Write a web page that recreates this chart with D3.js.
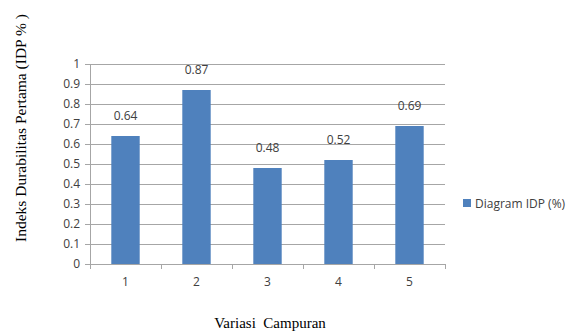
<!DOCTYPE html>
<html>
<head>
<meta charset="utf-8">
<script src="https://cdn.jsdelivr.net/npm/d3@7"></script>
<style>
  body { margin: 0; background: #fff; }
  svg { display: block; }
</style>
</head>
<body>
<svg id="chart" width="568" height="333"></svg>
<script>
// Durability index per mixture variation
const categories = ["1", "2", "3", "4", "5"];
const idpValues = [0.64, 0.87, 0.48, 0.52, 0.69];
const yTicks = [0, 0.1, 0.2, 0.3, 0.4, 0.5, 0.6, 0.7, 0.8, 0.9, 1];
const seriesName = "Diagram IDP (%)";
const yTitle = "Indeks Durabilitas Pertama (IDP % )";
const xTitle = "Variasi  Campuran";

const svg = d3.select("#chart");
const plot = { left: 90, right: 445, top: 64, bottom: 264 };
const barColor = "#4f81bd";
const labelFont = "'Open Sans', 'Liberation Sans', sans-serif";
const serifFont = "'Liberation Serif', 'DejaVu Serif', serif";
const labelSize = 12;

const x = d3.scaleBand().domain(categories).range([plot.left, plot.right])
  .paddingInner(0.6).paddingOuter(0.3);
const y = d3.scaleLinear().domain([0, 1]).range([plot.bottom, plot.top]);

// horizontal gridlines
svg.append("g").selectAll("line").data(yTicks.slice(1)).join("line")
  .attr("x1", plot.left).attr("x2", plot.right)
  .attr("y1", d => y(d)).attr("y2", d => y(d))
  .attr("stroke", "#a6a6a6").attr("stroke-width", 1)
  .attr("shape-rendering", "crispEdges");

// y axis
const yAxis = svg.append("g").attr("transform", `translate(${plot.left},0)`)
  .call(d3.axisLeft(y).tickValues(yTicks).tickFormat(d => String(d)).tickSize(5).tickPadding(5));
yAxis.select(".domain").attr("stroke", "#a6a6a6");
yAxis.selectAll(".tick line").attr("stroke", "#a6a6a6");
yAxis.selectAll("text").attr("font-family", labelFont).attr("font-size", labelSize).attr("fill", "#404040");

// bars
svg.append("g").selectAll("rect").data(idpValues).join("rect")
  .attr("x", (d, i) => x(categories[i]))
  .attr("y", d => y(d))
  .attr("width", x.bandwidth())
  .attr("height", d => y(0) - y(d))
  .attr("fill", barColor);

// value labels
svg.append("g").selectAll("text").data(idpValues).join("text")
  .attr("x", (d, i) => x(categories[i]) + x.bandwidth() / 2)
  .attr("y", d => y(d) - 16)
  .attr("text-anchor", "middle")
  .attr("font-family", labelFont).attr("font-size", labelSize).attr("fill", "#404040")
  .text(d => String(d));

// x axis with ticks at category boundaries
const step = x.step();
const boundaries = d3.range(categories.length + 1).map(i => plot.left + i * step);
svg.append("line").attr("x1", plot.left).attr("x2", plot.right)
  .attr("y1", plot.bottom + 0.5).attr("y2", plot.bottom + 0.5).attr("stroke", "#a6a6a6");
svg.append("g").selectAll("line").data(boundaries).join("line")
  .attr("x1", d => Math.round(d) + 0.5).attr("x2", d => Math.round(d) + 0.5)
  .attr("y1", plot.bottom).attr("y2", plot.bottom + 5).attr("stroke", "#a6a6a6");
svg.append("g").selectAll("text").data(categories).join("text")
  .attr("x", d => x(d) + x.bandwidth() / 2)
  .attr("y", plot.bottom + 22)
  .attr("text-anchor", "middle")
  .attr("font-family", labelFont).attr("font-size", labelSize).attr("fill", "#404040")
  .text(d => d);

// axis titles
svg.append("text")
  .attr("transform", "translate(26,128) rotate(-90)")
  .attr("text-anchor", "middle")
  .attr("font-family", serifFont).attr("font-size", 15.5).attr("fill", "#000")
  .style("white-space", "pre")
  .text(yTitle);
svg.append("text")
  .attr("x", 270).attr("y", 328)
  .attr("text-anchor", "middle")
  .attr("font-family", serifFont).attr("font-size", 15).attr("fill", "#000")
  .style("white-space", "pre")
  .text(xTitle);

// legend
const legend = svg.append("g").attr("transform", "translate(463,199)");
legend.append("rect").attr("width", 8).attr("height", 8).attr("fill", barColor);
legend.append("text").attr("x", 12).attr("y", 8.5)
  .attr("font-family", labelFont).attr("font-size", labelSize).attr("fill", "#404040")
  .text(seriesName);
</script>
</body>
</html>
